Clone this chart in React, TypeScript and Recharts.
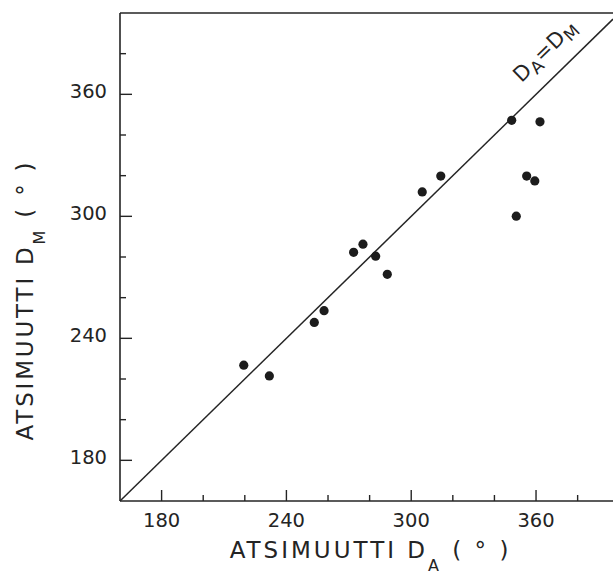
import React from 'react';
import { ScatterChart, Scatter, XAxis, YAxis, ReferenceLine, ReferenceDot } from 'recharts';

// atsimuutit (astetta): D_A vaaka-akselilla, D_M pystyakselilla
const dA = [219.5, 231.8, 253.4, 258.1, 272.3, 276.8, 282.9, 288.5, 305.3, 314.2, 348.3, 361.9, 355.5, 359.4, 350.5];
const dM = [226.8, 221.5, 247.8, 253.6, 282.3, 286.3, 280.4, 271.5, 312.0, 319.8, 347.2, 346.5, 319.8, 317.4, 300.1];

const xTicks = [180, 200, 220, 240, 260, 280, 300, 320, 340, 360, 380];
const yTicks = [180, 200, 220, 240, 260, 280, 300, 320, 340, 360, 380];
const labelledTicks = [180, 240, 300, 360];

const points = dA.map((x, i) => ({ x, y: dM[i] }));

const INK = '#242424';
const FONT = '"DejaVu Sans", sans-serif';

const XTick = (props: any) => {
  const { x, y, payload } = props;
  const major = labelledTicks.includes(payload.value);
  return (
    <g>
      <line x1={x} y1={y} x2={x} y2={y - (major ? 11 : 6)} stroke={INK} strokeWidth={1.4} />
      {major && (
        <text x={x} y={y + 26} textAnchor="middle" fontSize={19.5} fill={INK} fontFamily={FONT}>
          {payload.value}
        </text>
      )}
    </g>
  );
};

const YTick = (props: any) => {
  const { x, y, payload } = props;
  const major = labelledTicks.includes(payload.value);
  return (
    <g>
      <line x1={x} y1={y} x2={x + (major ? 12 : 6)} y2={y} stroke={INK} strokeWidth={1.4} />
      {major && (
        <text x={x - 13} y={y + 4} textAnchor="end" fontSize={19.5} fill={INK} fontFamily={FONT}>
          {payload.value}
        </text>
      )}
    </g>
  );
};

const XTitle = (props: any) => {
  const { x, y, width } = props.viewBox;
  return (
    <text x={x + width / 2 + 4} y={y + 57} textAnchor="middle" fontSize={23} letterSpacing={3} fill={INK} fontFamily={FONT}>
      ATSIMUUTTI D
      <tspan fontSize={16} dy={13}>A</tspan>
      <tspan dy={-13}> ( ° )</tspan>
    </text>
  );
};

const YTitle = (props: any) => {
  const { x, y } = props.viewBox;
  const tx = x - 27;
  const ty = y + 287;
  return (
    <text x={tx} y={ty} transform={`rotate(-90, ${tx}, ${ty})`} textAnchor="middle" fontSize={23} letterSpacing={2.8} fill={INK} fontFamily={FONT}>
      ATSIMUUTTI D
      <tspan fontSize={16} dy={12}>M</tspan>
      <tspan dy={-12}> ( ° )</tspan>
    </text>
  );
};

// D_A = D_M -merkintä suoran yläpuolella
const DiagLabel = (props: any) => {
  const { x, y } = props.viewBox;
  const tx = x + 1;
  const ty = y + 1;
  return (
    <text x={tx} y={ty} transform={`rotate(-44.3, ${tx}, ${ty})`} fontSize={21} letterSpacing={0.5} fill={INK} fontFamily={FONT}>
      D
      <tspan fontSize={17} dy={5}>A</tspan>
      <tspan dy={-5}>=D</tspan>
      <tspan fontSize={17} dy={5}>M</tspan>
    </text>
  );
};

const Dot = (props: any) => <circle cx={props.cx} cy={props.cy} r={4.6} fill="#1c1c1c" />;

export default function App() {
  return (
    <div style={{ position: 'absolute', left: 0, top: 0, width: 613, height: 574, background: '#fff' }}>
      <ScatterChart width={613} height={574} margin={{ top: 13, right: 0, bottom: 0, left: 60 }}>
        <XAxis
          type="number"
          dataKey="x"
          domain={[160, 397]}
          ticks={xTicks}
          interval={0}
          allowDataOverflow
          tickSize={0}
          tickMargin={0}
          tickLine={false}
          tick={<XTick />}
          axisLine={{ stroke: INK, strokeWidth: 1.6 }}
          height={73}
          label={<XTitle />}
        />
        <YAxis
          type="number"
          dataKey="y"
          domain={[160, 400]}
          ticks={yTicks}
          interval={0}
          allowDataOverflow
          tickSize={0}
          tickMargin={0}
          tickLine={false}
          tick={<YTick />}
          axisLine={{ stroke: INK, strokeWidth: 1.6 }}
          width={60}
          label={<YTitle />}
        />
        <ReferenceLine y={400} stroke={INK} strokeWidth={1.6} />
        <ReferenceLine
          segment={[{ x: 160, y: 160 }, { x: 397, y: 397 }]}
          stroke={INK}
          strokeWidth={1.5}
        />
        <ReferenceDot x={353} y={365.5} r={1} fill="none" stroke="none" label={<DiagLabel />} />
        <Scatter data={points} shape={<Dot />} isAnimationActive={false} />
      </ScatterChart>
    </div>
  );
}
